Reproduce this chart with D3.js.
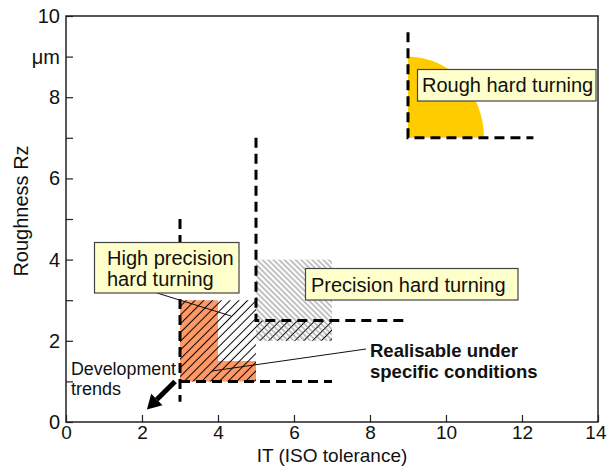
<!DOCTYPE html>
<html>
<head>
<meta charset="utf-8">
<script src="https://cdn.jsdelivr.net/npm/d3@7"></script>
<style>
  html, body { margin: 0; padding: 0; background: #fff; }
  svg { display: block; font-family: "Liberation Sans", Arial, sans-serif; }
</style>
</head>
<body>
<svg id="chart" width="608" height="466"></svg>
<script>
// ---------- data ----------
const xTickValues = [0, 2, 4, 6, 8, 10, 12, 14];
const yTickValues = [0, 1, 2, 3, 4, 5, 6, 7, 8, 9, 10];
const yTickLabels = ["0", "", "2", "", "4", "", "6", "", "8", "\u03bcm", "10"];
const xTitle = "IT (ISO tolerance)";
const yTitle = "Roughness Rz";

// region names
const regionNames = ["Rough hard turning", "Precision hard turning", "High precision hard turning"];
// rough hard turning: quarter ellipse, origin (x0,y0) reaching x1 and y1
const roughZone = [9, 7, 11, 9];
// precision hard turning: hatched rectangle [x0, y0, x1, y1]
const precisionZone = [5, 2, 7, 4];
// high precision hard turning: hatched polygon
const highPrecisionZone = [[3, 1], [3, 3], [5, 3], [5, 2.5], [7, 2.5], [7, 2], [5, 2], [5, 1]];
// realisable under specific conditions: filled polygon
const realisableZone = [[3, 1], [3, 3], [4, 3], [4, 1.5], [5, 1.5], [5, 1]];
// dashed boundary lines
const boundaryLines = [
  [[9, 9.6], [9, 7], [12.3, 7]],
  [[5, 7], [5, 2.5], [9, 2.5]],
  [[3, 5], [3, 0.5]],
  [[3, 1], [7, 1]]
];
// development trend arrow (from, to)
const trendArrow = [[2.87, 1.0], [2.13, 0.31]];

// ---------- layout ----------
const svg = d3.select("#chart");
const L = 66, R = 598, T = 16, B = 422;
const x = d3.scaleLinear().domain([0, 14]).range([L, R]);
const y = d3.scaleLinear().domain([0, 10]).range([B, T]);
const FONT = "'Liberation Sans', Arial, sans-serif";

const defs = svg.append("defs");
function hatch(id, spacing, angle, color, width) {
  const p = defs.append("pattern")
    .attr("id", id)
    .attr("patternUnits", "userSpaceOnUse")
    .attr("width", spacing).attr("height", 10)
    .attr("patternTransform", `rotate(${angle})`);
  p.append("line")
    .attr("x1", spacing / 2).attr("y1", -1)
    .attr("x2", spacing / 2).attr("y2", 11)
    .attr("stroke", color).attr("stroke-width", width);
}
hatch("hatchBlack", 6.2, 45, "#000", 1);
hatch("hatchGray", 3.9, -45, "#666", 0.8);

const line = d3.line().x(d => x(d[0])).y(d => y(d[1]));
const poly = pts => line(pts) + "Z";

// rough zone (yellow quarter ellipse)
{
  const [x0, y0, x1, y1] = roughZone;
  const rx = x(x1) - x(x0), ry = y(y0) - y(y1);
  svg.append("path")
    .attr("d", `M${x(x0)},${y(y0)} L${x(x1)},${y(y0)} A${rx},${ry} 0 0 0 ${x(x0)},${y(y1)} Z`)
    .attr("fill", "#FFCC00");
}

// realisable zone (orange)
svg.append("path").attr("d", poly(realisableZone)).attr("fill", "#FF9966");

// high precision hatch
svg.append("path").attr("d", poly(highPrecisionZone)).attr("fill", "url(#hatchBlack)");

// precision hatch
{
  const [x0, y0, x1, y1] = precisionZone;
  svg.append("rect")
    .attr("x", x(x0)).attr("y", y(y1))
    .attr("width", x(x1) - x(x0)).attr("height", y(y0) - y(y1))
    .attr("fill", "url(#hatchGray)");
}

// dashed boundaries
svg.selectAll("path.bound").data(boundaryLines).enter().append("path")
  .attr("class", "bound")
  .attr("d", d => line(d))
  .attr("fill", "none")
  .attr("stroke", "#000")
  .attr("stroke-width", 3)
  .attr("stroke-dasharray", "10,6");

// axes
const xAxis = d3.axisBottom(x).tickValues(xTickValues).tickSize(-7).tickSizeOuter(0).tickPadding(4);
const yAxis = d3.axisLeft(y).tickValues(yTickValues).tickSize(-7).tickSizeOuter(0).tickPadding(6)
  .tickFormat((d, i) => yTickLabels[i]);

const gx = svg.append("g").attr("transform", `translate(0,${B})`).call(xAxis);
const gy = svg.append("g").attr("transform", `translate(${L},0)`).call(yAxis);
[gx, gy].forEach(g => {
  g.select(".domain").remove();
  g.selectAll(".tick line").attr("stroke", "#222").attr("stroke-width", 1.2);
  g.selectAll(".tick text").attr("font-family", FONT).attr("fill", "#111");
});
gx.selectAll(".tick text").attr("font-size", 19);
gy.selectAll(".tick text").attr("font-size", 20);
// last x label sits inside the page edge
gx.selectAll(".tick text").filter(d => d === 14).attr("text-anchor", "end").attr("x", 8);

// frame
svg.append("rect")
  .attr("x", L).attr("y", T).attr("width", R - L).attr("height", B - T)
  .attr("fill", "none").attr("stroke", "#222").attr("stroke-width", 1.5);

// axis titles
svg.append("text")
  .attr("x", (L + R) / 2).attr("y", 462)
  .attr("text-anchor", "middle").attr("font-size", 19).attr("fill", "#111")
  .text(xTitle);
svg.append("text")
  .attr("transform", "translate(28,211) rotate(-90)")
  .attr("text-anchor", "middle").attr("font-size", 20).attr("fill", "#111")
  .text(yTitle);

// leader lines
svg.append("line").attr("x1", 157).attr("y1", 293).attr("x2", 231).attr("y2", 316)
  .attr("stroke", "#111").attr("stroke-width", 1);
svg.append("line").attr("x1", 366).attr("y1", 349).attr("x2", 212).attr("y2", 371)
  .attr("stroke", "#111").attr("stroke-width", 1);

// label boxes
function box(x0, y0, x1, y1, lines, tx, baselines) {
  svg.append("rect")
    .attr("x", x0).attr("y", y0).attr("width", x1 - x0).attr("height", y1 - y0)
    .attr("fill", "#FFFFCC").attr("stroke", "#444").attr("stroke-width", 1.2);
  lines.forEach((t, i) => {
    svg.append("text")
      .attr("x", tx).attr("y", baselines[i])
      .attr("font-size", 20).attr("fill", "#111")
      .text(t);
  });
}
box(417.5, 69.5, 596, 101, [regionNames[0]], 422, [92]);
box(305.5, 268.5, 518, 300, [regionNames[1]], 311, [292]);
box(94.5, 242.5, 239, 293, ["High precision", "hard turning"], 107, [265, 286]);

// realisable text
svg.append("text").attr("x", 370).attr("y", 357)
  .attr("font-size", 18.5).attr("font-weight", "bold").attr("fill", "#111")
  .text("Realisable under");
svg.append("text").attr("x", 370).attr("y", 378)
  .attr("font-size", 18.5).attr("font-weight", "bold").attr("fill", "#111")
  .text("specific conditions");

// development trends
svg.append("text").attr("x", 71).attr("y", 375)
  .attr("font-size", 18).attr("fill", "#111")
  .attr("textLength", 105).attr("lengthAdjust", "spacingAndGlyphs")
  .text("Development");
svg.append("text").attr("x", 71).attr("y", 395)
  .attr("font-size", 18).attr("fill", "#111").text("trends");

// arrow
{
  const [p0, p1] = trendArrow;
  const sx = x(p0[0]), sy = y(p0[1]), ex = x(p1[0]), ey = y(p1[1]);
  const ang = Math.atan2(ey - sy, ex - sx);
  const headLen = 14, headW = 8;
  const bx = ex - headLen * Math.cos(ang), by = ey - headLen * Math.sin(ang);
  svg.append("line").attr("x1", sx).attr("y1", sy).attr("x2", bx).attr("y2", by)
    .attr("stroke", "#000").attr("stroke-width", 5);
  const nx = -Math.sin(ang), ny = Math.cos(ang);
  svg.append("path")
    .attr("d", `M${ex},${ey} L${bx + nx * headW},${by + ny * headW} L${bx - nx * headW},${by - ny * headW} Z`)
    .attr("fill", "#000");
}
</script>
</body>
</html>
